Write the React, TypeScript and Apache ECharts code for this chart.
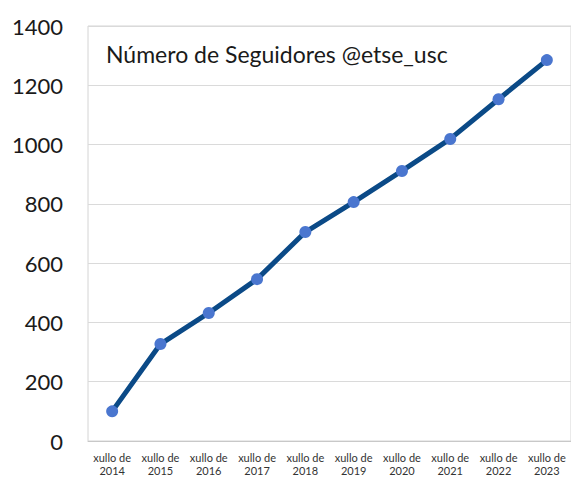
import React, { useEffect, useRef } from "react";
import * as echarts from "echarts";

const categories = [
  "xullo de\n2014", "xullo de\n2015", "xullo de\n2016", "xullo de\n2017", "xullo de\n2018",
  "xullo de\n2019", "xullo de\n2020", "xullo de\n2021", "xullo de\n2022", "xullo de\n2023",
];
const followers = [100, 327, 432, 546, 705, 806, 911, 1019, 1153, 1285];
const chartTitle = "Número de Seguidores @etse_usc";

export default function App() {
  const ref = useRef<HTMLDivElement>(null);
  useEffect(() => {
    const chart = echarts.init(ref.current!, null, { renderer: "svg" });
    chart.setOption({
      animation: false,
      backgroundColor: "#ffffff",
      title: {
        text: chartTitle,
        left: 101,
        top: 37,
        textStyle: { fontFamily: "Lato", fontSize: 23, fontWeight: "normal", color: "#1a1a1a" },
      },
      grid: {
        left: 88, right: 0, top: 26, bottom: 38,
        outerBoundsMode: "none",
        containLabel: false,
        show: true, borderColor: "#d4d4d4", borderWidth: 1, backgroundColor: "transparent",
      },
      xAxis: {
        type: "category",
        data: categories,
        boundaryGap: true,
        axisLine: { lineStyle: { color: "#c8c8c8" } },
        axisTick: { show: false },
        axisLabel: { fontFamily: "Lato", fontSize: 11, color: "#333", margin: 10, lineHeight: 13, interval: 0 },
      },
      yAxis: {
        type: "value",
        min: 0, max: 1400, interval: 200,
        axisLine: { show: false },
        axisTick: { show: false },
        splitLine: { lineStyle: { color: "#dadada" } },
        axisLabel: {
          fontFamily: "Lato", fontSize: 22, color: "#1a1a1a", margin: 25,
          formatter: (v: number) => String(v),
        },
      },
      series: [
        {
          type: "line",
          data: followers,
          lineStyle: { color: "#0b4a87", width: 5 },
          itemStyle: { color: "#4a76cf" },
          symbol: "circle",
          symbolSize: 12,
        },
      ],
    });
    return () => chart.dispose();
  }, []);
  return <div ref={ref} style={{ position: "fixed", left: 0, top: 0, width: 571, height: 479 }} />;
}
